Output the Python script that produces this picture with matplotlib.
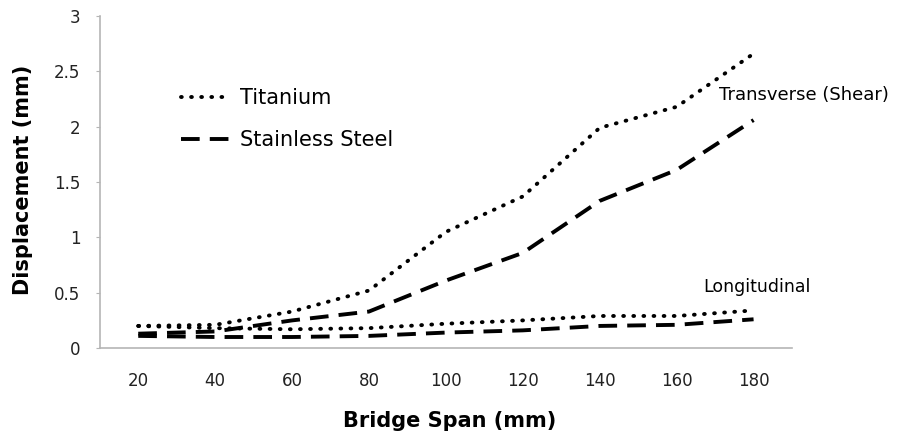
import matplotlib
matplotlib.use("Agg")
import matplotlib.pyplot as plt

# Bridge span categories (mm)
span = [20, 40, 60, 80, 100, 120, 140, 160, 180]

# Transverse (shear) displacement (mm)
ti_trans = [0.20, 0.21, 0.33, 0.52, 1.05, 1.37, 1.99, 2.18, 2.66]
ss_trans = [0.13, 0.15, 0.25, 0.33, 0.61, 0.86, 1.33, 1.61, 2.06]

# Longitudinal displacement (mm)
ti_long = [0.20, 0.18, 0.17, 0.18, 0.22, 0.25, 0.29, 0.29, 0.34]
ss_long = [0.11, 0.10, 0.10, 0.11, 0.14, 0.16, 0.20, 0.21, 0.26]

yticks = [0, 0.5, 1, 1.5, 2, 2.5, 3]
ytick_labels = ['0', '0.5', '1', '1.5', '2', '2.5', '3']


def main():
    fig = plt.figure(figsize=(8.99, 4.34), dpi=100)
    ax = fig.add_axes([0.111, 0.198, 0.770, 0.765])

    dot = dict(color='black', lw=2.8, linestyle=(0, (0.2, 2.4)),
               dash_capstyle='round')
    dash = dict(color='black', lw=2.8, linestyle=(0, (4.8, 2.6)),
                dash_capstyle='butt')

    p1, = ax.plot(span, ti_trans, label='Titanium', **dot)
    p2, = ax.plot(span, ss_trans, label='Stainless Steel', **dash)
    ax.plot(span, ti_long, **dot)
    ax.plot(span, ss_long, **dash)

    ax.set_xlim(10, 190)
    ax.set_ylim(0, 3)
    ax.set_xticks(span)
    ax.set_yticks(yticks)
    ax.set_yticklabels(ytick_labels)

    for side in ['top', 'right']:
        ax.spines[side].set_visible(False)
    for side in ['left', 'bottom']:
        ax.spines[side].set_color('#b5b5b5')
        ax.spines[side].set_linewidth(1.2)
    ax.tick_params(axis='x', length=0, pad=17, labelsize=12, colors='#222222')
    ax.tick_params(axis='y', length=3, color='#b5b5b5', pad=11,
                   labelsize=12, labelcolor='#222222')

    fig.text(0.5, 0.03, 'Bridge Span (mm)', fontsize=15, fontweight='bold',
             ha='center', va='center')
    fig.text(0.026, 0.585, 'Displacement (mm)', fontsize=15,
             fontweight='bold', ha='center', va='center', rotation=90)

    ax.legend(handles=[p1, p2], loc='upper left',
              bbox_to_anchor=(0.09, 0.84), frameon=False, fontsize=15,
              handlelength=2.4, handletextpad=0.45, labelspacing=1.05)

    ax.text(171, 2.29, 'Transverse (Shear)', fontsize=13, ha='left',
            va='center')
    ax.text(167, 0.55, 'Longitudinal', fontsize=12.5, ha='left', va='center')

    fig.savefig('out.png', dpi=100)


if __name__ == "__main__":
    main()
